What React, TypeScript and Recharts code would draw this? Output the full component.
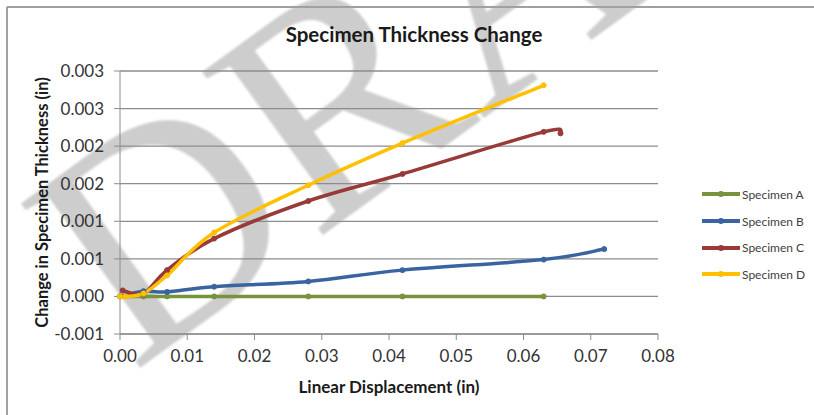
import React from 'react';
import { LineChart, Line, XAxis, YAxis, CartesianGrid, Label } from 'recharts';

const xTicks = [0, 0.01, 0.02, 0.03, 0.04, 0.05, 0.06, 0.07, 0.08];
const yTicks = [-0.0005, 0, 0.0005, 0.001, 0.0015, 0.002, 0.0025, 0.003];
const yTickLabels = ['-0.001', '0.000', '0.001', '0.001', '0.002', '0.002', '0.003', '0.003'];

const specimenA = [
  { x: 0, y: 0 },
  { x: 0.0035, y: 0 },
  { x: 0.007, y: 0 },
  { x: 0.014, y: 0 },
  { x: 0.028, y: 0 },
  { x: 0.042, y: 0 },
  { x: 0.063, y: 0 },
];

const specimenB = [
  { x: 0, y: 0 },
  { x: 0.0035, y: 0.00007 },
  { x: 0.007, y: 0.00006 },
  { x: 0.014, y: 0.00013 },
  { x: 0.028, y: 0.0002 },
  { x: 0.042, y: 0.00035 },
  { x: 0.063, y: 0.00049 },
  { x: 0.072, y: 0.00063 },
];

const specimenC = [
  { x: 0.0004, y: 0.00008 },
  { x: 0.0035, y: 0.00004 },
  { x: 0.007, y: 0.00035 },
  { x: 0.014, y: 0.00077 },
  { x: 0.028, y: 0.00127 },
  { x: 0.042, y: 0.00163 },
  { x: 0.063, y: 0.00219 },
  { x: 0.0655, y: 0.00217 },
];

const specimenD = [
  { x: 0, y: 0 },
  { x: 0.0008, y: 0 },
  { x: 0.0035, y: 0.00004 },
  { x: 0.007, y: 0.00028 },
  { x: 0.014, y: 0.00085 },
  { x: 0.028, y: 0.00148 },
  { x: 0.042, y: 0.00204 },
  { x: 0.063, y: 0.00281 },
];

const series = [
  { name: 'Specimen A', data: specimenA, color: '#77933C' },
  { name: 'Specimen B', data: specimenB, color: '#3A64A0' },
  { name: 'Specimen C', data: specimenC, color: '#983A37' },
  { name: 'Specimen D', data: specimenD, color: '#FFC000' },
];

const FONT = 'Lato, "Open Sans", sans-serif';
const AXIS_GRAY = '#8c8c8c';

// Catmull-Rom style smoothing (what spreadsheet "smoothed line" charts use)
const smoothCurve = (context: any) => {
  let pts: number[][] = [];
  return {
    areaStart() {},
    areaEnd() {},
    lineStart() {
      pts = [];
    },
    point(x: number, y: number) {
      pts.push([+x, +y]);
    },
    lineEnd() {
      const n = pts.length;
      if (!n) return;
      context.moveTo(pts[0][0], pts[0][1]);
      for (let i = 0; i < n - 1; i++) {
        const p0 = pts[i - 1] || pts[i];
        const p1 = pts[i];
        const p2 = pts[i + 1];
        const p3 = pts[i + 2] || p2;
        context.bezierCurveTo(
          p1[0] + (p2[0] - p0[0]) / 6,
          p1[1] + (p2[1] - p0[1]) / 6,
          p2[0] - (p3[0] - p1[0]) / 6,
          p2[1] - (p3[1] - p1[1]) / 6,
          p2[0],
          p2[1],
        );
      }
    },
  };
};

// big rotated "DRAFT" stamp sitting behind the plot
const Watermark = () => (
  <svg width={814} height={415} style={{ position: 'absolute', left: 0, top: 0 }}>
    <defs>
      <filter id="soft">
        <feGaussianBlur stdDeviation="1.2" />
      </filter>
    </defs>
    <text
      x={133}
      y={373}
      transform="rotate(-36 133 373)"
      fontFamily='"Liberation Serif", serif'
      fontSize={310}
      fill="#cdcdcd"
      filter="url(#soft)"
    >
      DRAFT
    </text>
    <line x1={7} y1={7} x2={814} y2={7} stroke="#a0a0a0" strokeWidth={2} />
    <line x1={7} y1={7} x2={7} y2={415} stroke="#a0a0a0" strokeWidth={2} />
  </svg>
);

const LegendBox = () => (
  <div style={{ position: 'absolute', left: 702, top: 181, fontFamily: FONT, fontSize: 12, color: '#404040' }}>
    {series.map((s) => (
      <div key={s.name} style={{ display: 'flex', alignItems: 'center', height: 26.7 }}>
        <svg width={39} height={10}>
          <line x1={0} y1={5} x2={38} y2={5} stroke={s.color} strokeWidth={4} />
          <circle cx={19} cy={5} r={3} fill={s.color} />
        </svg>
        <span style={{ marginLeft: 1 }}>{s.name}</span>
      </div>
    ))}
  </div>
);

export default function App() {
  return (
    <div style={{ position: 'absolute', left: 0, top: 0, width: 814, height: 415, background: '#fff' }}>
      <Watermark />
      <div style={{ position: 'absolute', left: 0, top: 0 }}>
        <LineChart width={814} height={415} margin={{ top: 71, right: 156, bottom: 51, left: 50 }}>
          <text x={414} y={42} textAnchor="middle" fontFamily={FONT} fontWeight="bold" fontSize={20.5} fill="#1a1a1a">
            Specimen Thickness Change
          </text>
          <CartesianGrid vertical={false} stroke={AXIS_GRAY} strokeWidth={1.3} />
          <XAxis
            dataKey="x"
            type="number"
            domain={[0, 0.08]}
            ticks={xTicks}
            allowDuplicatedCategory={false}
            tickFormatter={(v: number) => v.toFixed(2)}
            height={30}
            stroke={AXIS_GRAY}
            tickSize={6}
            tickMargin={10}
            tick={{ fontFamily: FONT, fontSize: 17, fill: '#333' }}
          >
            <Label
              value="Linear Displacement (in)"
              position="insideBottom"
              offset={-29}
              style={{ fontFamily: FONT, fontWeight: 'bold', fontSize: 17, fill: '#1a1a1a' }}
            />
          </XAxis>
          <YAxis
            dataKey="y"
            type="number"
            domain={[-0.0005, 0.003]}
            ticks={yTicks}
            tickFormatter={(v: number) => yTickLabels[yTicks.indexOf(v)] ?? ''}
            width={70}
            stroke={AXIS_GRAY}
            tickSize={6}
            tickMargin={10}
            tick={{ fontFamily: FONT, fontSize: 17, fill: '#333' }}
          >
            <Label
              value="Change in Specimen Thickness (in)"
              angle={-90}
              position="insideLeft"
              offset={-8}
              style={{ textAnchor: 'middle', fontFamily: FONT, fontWeight: 'bold', fontSize: 16.5, fill: '#1a1a1a' }}
            />
          </YAxis>
          {series.map((s) => (
            <Line
              key={s.name}
              data={s.data}
              dataKey="y"
              name={s.name}
              type={smoothCurve as any}
              stroke={s.color}
              strokeWidth={3.5}
              dot={{ r: 2.5, fill: s.color, stroke: s.color, strokeWidth: 1 }}
              isAnimationActive={false}
            />
          ))}
        </LineChart>
      </div>
      <LegendBox />
    </div>
  );
}
